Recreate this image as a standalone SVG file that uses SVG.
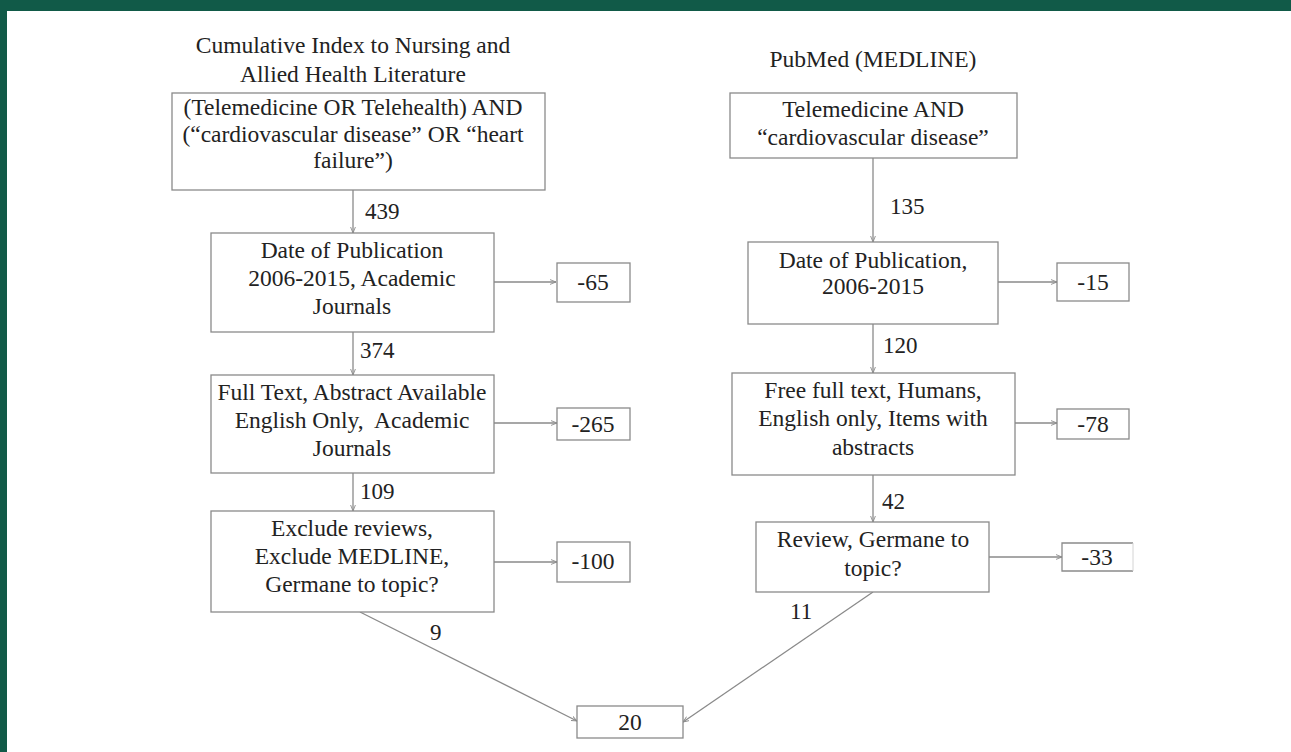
<svg xmlns="http://www.w3.org/2000/svg" width="1291" height="752" viewBox="0 0 1291 752">
<style>
.box{fill:#fff;stroke:#8a8a8a;stroke-width:1.3}
.t{font-family:'Liberation Serif','Times New Roman','DejaVu Serif',serif;font-size:23.5px;fill:#222;text-anchor:middle}
.n{font-family:'Liberation Serif','Times New Roman','DejaVu Serif',serif;font-size:23px;fill:#222}
.c{stroke:#8a8a8a;stroke-width:1.3;fill:none;marker-end:url(#ah)}
</style>
<defs>
<marker id="ah" viewBox="0 0 10 10" refX="10" refY="5" markerWidth="6" markerHeight="6" orient="auto" markerUnits="userSpaceOnUse">
<path d="M0,1 L10,5 L0,9" fill="none" stroke="#8a8a8a" stroke-width="1.5"/>
</marker>
</defs>
<rect x="0" y="0" width="1291" height="752" fill="#fff"/>
<rect x="0" y="0" width="1291" height="11" fill="#115a48"/>
<rect x="0" y="0" width="7" height="752" fill="#115a48"/>

<g id="titles">
<text class="t" x="353" y="53">Cumulative Index to Nursing and</text>
<text class="t" x="353" y="82">Allied Health Literature</text>
<text class="t" x="873" y="67">PubMed (MEDLINE)</text>
</g>

<g id="connectors">
<line class="c" x1="353" y1="190" x2="353" y2="233"/>
<line class="c" x1="494" y1="282" x2="556" y2="282"/>
<line class="c" x1="353" y1="332" x2="353" y2="375"/>
<line class="c" x1="494" y1="423" x2="557" y2="423"/>
<line class="c" x1="353" y1="473" x2="353" y2="511"/>
<line class="c" x1="494" y1="562" x2="557" y2="562"/>
<line class="c" x1="360" y1="612" x2="577" y2="721"/>
<line class="c" x1="873" y1="158" x2="873" y2="242"/>
<line class="c" x1="998" y1="282" x2="1057" y2="282"/>
<line class="c" x1="873" y1="324" x2="873" y2="373"/>
<line class="c" x1="1015" y1="423" x2="1057" y2="423"/>
<line class="c" x1="873" y1="475" x2="873" y2="522"/>
<line class="c" x1="989" y1="557" x2="1062" y2="557"/>
<line class="c" x1="873" y1="592" x2="683" y2="722"/>
<text class="n" x="365" y="219">439</text>
<text class="n" x="360" y="358">374</text>
<text class="n" x="360" y="499">109</text>
<text class="n" x="430" y="640">9</text>
<text class="n" x="890" y="214">135</text>
<text class="n" x="883" y="353">120</text>
<text class="n" x="882" y="509">42</text>
<text class="n" x="790" y="619">11</text>
</g>

<g id="cinahl-search">
<rect class="box" x="172" y="93" width="373" height="97"/>
<text class="t" x="353" y="115">(Telemedicine OR Telehealth) AND</text>
<text class="t" x="353" y="142">(“cardiovascular disease” OR “heart</text>
<text class="t" x="353" y="168">failure”)</text>
</g>
<g id="cinahl-date">
<rect class="box" x="211" y="233" width="283" height="99"/>
<text class="t" x="352" y="258">Date of Publication</text>
<text class="t" x="352" y="286">2006-2015, Academic</text>
<text class="t" x="352" y="314">Journals</text>
</g>
<g id="cinahl-date-ex">
<rect class="box" x="557" y="263" width="73" height="39"/>
<text class="t" x="593" y="290">-65</text>
</g>
<g id="cinahl-full">
<rect class="box" x="211" y="375" width="283" height="98"/>
<text class="t" x="352" y="400">Full Text, Abstract Available</text>
<text class="t" x="352" y="428" xml:space="preserve">English Only,  Academic</text>
<text class="t" x="352" y="456">Journals</text>
</g>
<g id="cinahl-full-ex">
<rect class="box" x="557" y="408" width="73" height="32"/>
<text class="t" x="593" y="432">-265</text>
</g>
<g id="cinahl-exclude">
<rect class="box" x="211" y="511" width="283" height="101"/>
<text class="t" x="352" y="536">Exclude reviews,</text>
<text class="t" x="352" y="564">Exclude MEDLINE,</text>
<text class="t" x="352" y="592">Germane to topic?</text>
</g>
<g id="cinahl-exclude-ex">
<rect class="box" x="557" y="542" width="73" height="40"/>
<text class="t" x="593" y="569">-100</text>
</g>

<g id="pubmed-search">
<rect class="box" x="730" y="93" width="287" height="65"/>
<text class="t" x="873" y="117">Telemedicine AND</text>
<text class="t" x="873" y="145">“cardiovascular disease”</text>
</g>
<g id="pubmed-date">
<rect class="box" x="748" y="242" width="250" height="82"/>
<text class="t" x="873" y="268">Date of Publication,</text>
<text class="t" x="873" y="294">2006-2015</text>
</g>
<g id="pubmed-date-ex">
<rect class="box" x="1057" y="263" width="72" height="38"/>
<text class="t" x="1093" y="290">-15</text>
</g>
<g id="pubmed-free">
<rect class="box" x="732" y="373" width="283" height="102"/>
<text class="t" x="873" y="398">Free full text, Humans,</text>
<text class="t" x="873" y="426">English only, Items with</text>
<text class="t" x="873" y="455">abstracts</text>
</g>
<g id="pubmed-free-ex">
<rect class="box" x="1057" y="409" width="72" height="30"/>
<text class="t" x="1093" y="432">-78</text>
</g>
<g id="pubmed-review">
<rect class="box" x="756" y="522" width="233" height="70"/>
<text class="t" x="873" y="547">Review, Germane to</text>
<text class="t" x="873" y="576">topic?</text>
</g>
<g id="pubmed-review-ex">
<path d="M1133,543 H1062 V571 H1133" fill="#fff" stroke="#8a8a8a" stroke-width="1.3"/>
<line x1="1133" y1="543" x2="1133" y2="571" stroke="#d4d4d4" stroke-width="1"/>
<text class="t" x="1097" y="565">-33</text>
</g>

<g id="total">
<rect class="box" x="577" y="706" width="106" height="32"/>
<text class="t" x="630" y="730">20</text>
</g>
</svg>
